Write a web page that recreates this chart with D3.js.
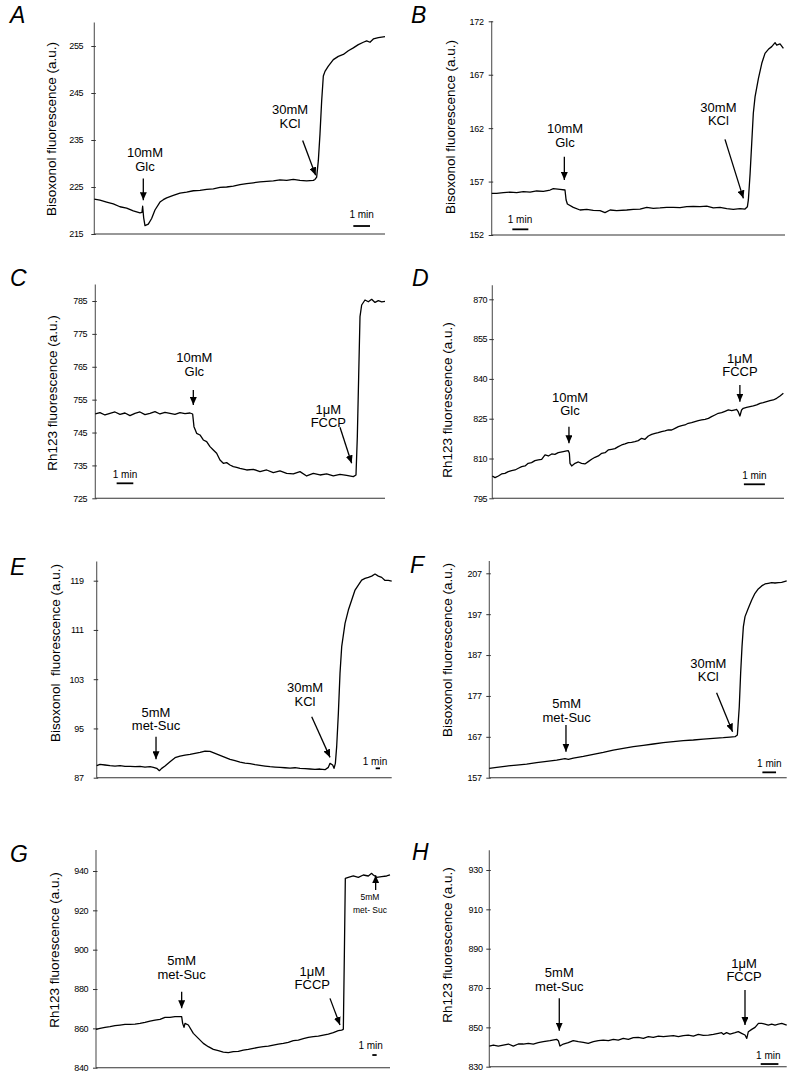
<!DOCTYPE html>
<html><head><meta charset="utf-8">
<script src="https://cdn.jsdelivr.net/npm/d3@7"></script>
<style>
body{margin:0;background:#fff}
svg text{font-family:"Liberation Sans",Arial,Helvetica,sans-serif;fill:#000}
</style></head><body>
<svg id="c" width="799" height="1083"></svg>
<script>
// ---------- DATA (time in minutes, fluorescence in a.u.) ----------
const letters = ["A","B","C","D","E","F","G","H"];
const labelBis = "Bisoxonol fluorescence (a.u.)";
const labelBisE = "Bisoxonol\u00a0\u00a0fluorescence (a.u.)";
const labelRh = "Rh123 fluorescence (a.u.)";

const ticksA = [215,225,235,245,255];
const ticksB = [152,157,162,167,172];
const ticksC = [725,735,745,755,765,775,785];
const ticksD = [795,810,825,840,855,870];
const ticksE = [87,95,103,111,119];
const ticksF = [157,167,177,187,197,207];
const ticksG = [840,860,880,900,920,940];
const ticksH = [830,850,870,890,910,930];

const traceA = [[0,222.4],[0.34,222.2],[0.74,221.8],[1.14,221.4],[1.54,220.8],[1.94,220.5],[2.34,219.9],[2.74,219.5],[2.86,219.6],[2.90,220.9],[2.96,218.5],[3.04,216.8],[3.24,217.1],[3.44,218.3],[3.64,220.1],[3.94,221.8],[4.14,222.3],[4.34,222.7],[4.74,223.2],[5.14,223.7],[5.54,223.9],[5.94,224.2],[6.34,224.3],[6.74,224.5],[7.14,224.6],[7.54,224.9],[7.94,225.0],[8.34,225.2],[8.74,225.5],[9.14,225.7],[9.54,225.9],[9.94,226.1],[10.34,226.2],[10.74,226.3],[11.14,226.5],[11.54,226.4],[11.94,226.6],[12.34,226.4],[12.74,226.3],[13.14,226.4],[13.24,226.6],[13.34,227.1],[13.44,230.6],[13.54,236.3],[13.64,243.3],[13.74,248.6],[13.84,249.6],[14.04,250.7],[14.34,252.1],[14.64,252.8],[14.94,253.2],[15.24,254.0],[15.54,254.6],[15.84,255.3],[16.14,255.8],[16.34,256.1],[16.54,255.8],[16.74,256.5],[17.04,256.8],[17.44,257.0]];

const traceB = [[0,155.90],[0.31,155.90],[0.73,155.96],[1.15,156.02],[1.56,155.96],[1.98,156.06],[2.40,156.02],[2.81,156.12],[3.23,156.09],[3.65,156.21],[3.85,156.34],[4.27,156.27],[4.58,156.21],[4.65,155.28],[4.73,154.90],[5.10,154.59],[5.52,154.34],[5.94,154.40],[6.35,154.31],[6.77,154.28],[7.08,154.09],[7.40,154.34],[7.81,154.28],[8.44,154.34],[8.85,154.40],[9.27,154.43],[9.69,154.59],[10.10,154.50],[10.52,154.53],[10.94,154.59],[11.35,154.59],[11.77,154.56],[12.19,154.65],[12.60,154.68],[13.02,154.65],[13.44,154.71],[13.85,154.53],[14.27,154.59],[14.69,154.46],[15.10,154.40],[15.52,154.46],[15.83,154.43],[15.98,154.65],[16.04,155.28],[16.15,157.77],[16.25,160.58],[16.35,163.39],[16.46,164.95],[16.67,166.66],[16.88,168.07],[17.08,169.00],[17.29,169.38],[17.50,169.63],[17.71,170.00],[17.81,169.78],[18.02,169.88],[18.23,169.47]];

const traceC = [[0,750.64],[0.28,751.05],[0.58,750.34],[0.88,750.84],[1.18,751.25],[1.48,750.54],[1.78,750.94],[2.08,750.13],[2.38,750.84],[2.68,751.25],[2.98,750.44],[3.28,750.84],[3.58,751.35],[3.88,750.64],[4.18,751.15],[4.48,750.84],[4.78,750.54],[5.08,751.05],[5.38,750.74],[5.68,750.94],[5.84,750.64],[5.92,746.79],[6.08,744.76],[6.28,744.26],[6.48,742.74],[6.68,742.23],[6.88,740.71],[7.08,739.70],[7.28,738.68],[7.48,736.65],[7.68,735.64],[7.88,735.84],[8.08,735.13],[8.28,734.63],[8.48,734.43],[8.68,734.12],[9.08,733.61],[9.48,733.82],[9.88,733.11],[10.28,733.61],[10.68,732.80],[11.08,733.31],[11.48,732.60],[11.88,732.40],[12.28,733.11],[12.68,731.79],[13.08,732.60],[13.48,732.09],[13.88,732.40],[14.28,731.79],[14.68,732.30],[15.08,731.99],[15.48,731.59],[15.64,732.09],[15.72,743.75],[15.80,761.99],[15.88,780.23],[15.98,783.78],[16.18,785.30],[16.38,784.76],[16.58,785.51],[16.78,784.56],[16.98,785.10],[17.18,784.76],[17.38,784.86]];

const traceD = [[0,803.42],[0.13,802.79],[0.29,803.42],[0.44,804.17],[0.60,804.42],[0.76,805.05],[0.92,805.43],[1.08,805.68],[1.24,806.31],[1.40,806.93],[1.56,807.19],[1.71,808.19],[1.87,808.44],[2.03,809.20],[2.19,809.45],[2.35,809.70],[2.51,811.33],[2.67,810.95],[2.83,811.71],[2.98,811.58],[3.14,812.21],[3.38,812.59],[3.54,812.84],[3.62,812.96],[3.67,811.96],[3.70,808.19],[3.78,807.19],[3.94,808.19],[4.10,808.69],[4.25,808.19],[4.41,807.94],[4.57,808.82],[4.73,809.70],[4.89,810.45],[5.05,810.95],[5.21,811.96],[5.37,812.21],[5.52,813.22],[5.68,813.47],[5.84,813.72],[6.00,814.47],[6.16,815.10],[6.32,815.48],[6.48,815.98],[6.63,816.11],[6.79,816.36],[6.95,816.73],[7.11,817.61],[7.27,817.24],[7.43,818.49],[7.59,819.12],[7.75,819.50],[7.90,819.75],[8.06,820.13],[8.22,820.38],[8.38,820.75],[8.54,820.75],[8.70,821.38],[8.86,822.01],[9.02,822.39],[9.17,822.64],[9.33,823.27],[9.49,823.52],[9.65,823.89],[9.81,824.27],[9.97,824.52],[10.13,824.77],[10.29,825.15],[10.44,825.78],[10.60,826.41],[10.76,827.04],[10.92,827.29],[11.08,827.79],[11.24,828.29],[11.40,828.04],[11.56,828.29],[11.63,828.54],[11.71,827.66],[11.79,826.03],[11.87,828.29],[11.95,828.92],[12.11,829.30],[12.27,829.55],[12.43,829.80],[12.59,830.18],[12.75,830.80],[12.90,831.06],[13.06,831.43],[13.22,831.81],[13.38,832.06],[13.54,832.69],[13.70,833.57],[13.86,834.57]];

const traceE = [[0,88.95],[0.77,89.17],[1.92,89.06],[3.08,88.95],[4.23,88.89],[5.38,88.95],[6.54,88.84],[7.69,88.84],[8.85,88.79],[10.0,88.84],[11.15,88.73],[12.31,88.79],[13.08,88.68],[13.85,88.52],[14.46,88.14],[15.0,88.52],[15.77,88.89],[16.92,89.60],[18.08,90.25],[19.23,90.52],[20.38,90.68],[21.54,90.79],[22.69,90.95],[23.85,91.11],[25.0,91.33],[26.15,91.28],[27.31,90.95],[28.46,90.63],[29.62,90.30],[30.77,89.98],[31.92,89.76],[33.08,89.54],[34.23,89.38],[35.38,89.27],[36.54,89.11],[37.69,89.00],[38.85,88.89],[40.0,88.79],[41.15,88.73],[42.31,88.68],[43.46,88.62],[44.62,88.57],[45.77,88.62],[46.92,88.52],[48.08,88.46],[49.23,88.41],[50.38,88.35],[51.54,88.41],[52.69,88.30],[53.46,88.68],[53.85,89.33],[54.46,89.06],[54.77,88.52],[55.08,89.33],[55.38,92.04],[55.77,97.45],[56.15,103.95],[56.54,108.28],[57.31,112.07],[58.08,114.23],[58.85,115.86],[59.62,117.48],[60.38,118.29],[61.15,119.10],[61.92,119.37],[62.69,119.54],[63.46,119.75],[64.23,120.08],[65.0,119.75],[65.77,119.54],[66.54,119.04],[67.31,119.04],[68.08,118.93]];

const traceF = [[0,159.28],[0.54,159.53],[1.27,159.85],[2.0,160.10],[2.73,160.34],[3.46,160.67],[4.20,161.00],[4.93,161.32],[5.54,161.65],[5.78,161.49],[6.15,161.81],[6.88,162.22],[7.61,162.71],[8.34,163.20],[9.07,163.77],[9.80,164.18],[10.54,164.59],[11.27,164.91],[12.0,165.24],[12.73,165.56],[13.46,165.81],[14.20,166.05],[14.93,166.22],[15.66,166.46],[16.39,166.62],[17.12,166.79],[17.61,166.95],[17.98,167.03],[18.15,167.44],[18.29,174.37],[18.39,182.53],[18.49,189.06],[18.59,193.95],[18.71,196.40],[18.95,198.44],[19.20,200.47],[19.44,202.11],[19.68,203.17],[19.93,203.91],[20.17,204.39],[20.41,204.55],[20.66,204.72],[20.90,204.63],[21.15,204.72],[21.39,204.80],[21.76,205.12]];

const traceG = [[0,859.49],[0.92,860.0],[2.08,860.51],[3.23,860.85],[4.38,861.36],[5.54,861.69],[6.69,862.03],[7.85,862.03],[9.0,862.20],[10.15,862.54],[11.31,863.05],[12.46,863.73],[13.62,864.24],[14.77,864.58],[15.92,865.59],[17.08,865.59],[18.23,865.93],[19.38,865.93],[19.77,865.93],[20.0,862.54],[20.31,860.51],[20.54,862.54],[21.31,861.69],[22.46,857.46],[23.62,854.92],[24.77,852.37],[25.92,850.68],[27.08,849.32],[28.23,848.64],[29.38,847.97],[30.54,847.63],[31.69,848.14],[32.85,848.31],[34.0,848.98],[35.15,849.32],[36.31,849.83],[37.46,850.34],[38.62,850.68],[39.77,851.02],[40.92,851.53],[42.08,852.03],[43.23,852.37],[44.38,852.88],[45.54,853.73],[46.69,854.07],[47.85,854.75],[49.0,855.42],[50.15,855.76],[51.31,856.10],[52.46,856.61],[53.62,857.12],[54.77,857.80],[55.92,858.81],[56.69,859.15],[57.08,859.49],[57.31,896.44],[57.54,936.27],[58.23,936.78],[59.38,937.46],[60.54,936.78],[61.69,937.97],[62.85,937.46],[63.62,938.81],[64.0,937.97],[64.77,936.78],[65.92,937.12],[67.08,937.46],[67.85,937.97]];

const traceH = [[0,840.51],[0.23,841.02],[0.51,840.51],[0.79,841.02],[1.08,841.53],[1.36,840.51],[1.64,841.53],[1.92,841.53],[2.21,841.86],[2.49,841.53],[2.77,842.20],[3.06,842.71],[3.43,843.22],[3.81,843.90],[3.91,843.22],[4.0,840.51],[4.19,841.53],[4.47,842.20],[4.75,843.22],[5.04,842.71],[5.32,842.37],[5.60,841.86],[5.89,842.71],[6.17,843.22],[6.45,843.56],[6.74,843.22],[7.02,843.90],[7.30,843.56],[7.58,844.41],[7.87,843.90],[8.15,844.75],[8.43,844.92],[8.72,844.41],[9.0,845.25],[9.28,844.92],[9.57,845.59],[9.85,845.25],[10.13,845.59],[10.42,845.76],[10.70,845.25],[10.98,845.76],[11.26,846.10],[11.55,845.59],[11.83,846.44],[12.11,845.93],[12.40,846.10],[12.68,846.44],[12.96,846.95],[13.15,847.29],[13.25,846.44],[13.43,847.29],[13.62,846.61],[13.91,847.29],[14.09,847.80],[14.28,846.95],[14.47,846.10],[14.57,844.41],[14.66,847.80],[14.85,848.98],[15.04,850.0],[15.23,852.03],[15.42,852.03],[15.60,851.69],[15.79,851.19],[15.98,851.69],[16.17,851.19],[16.36,851.69],[16.55,852.03],[16.83,851.19]];

// time extent of each recording (min) and top of y-axis line (a.u.)
const tMaxes = {A:17.44,B:18.33,C:17.38,D:13.89,E:68.08,F:21.76,G:67.85,H:16.83};
const yAxisTop = {A:260,B:172,C:790,D:875.3,E:122.1,F:210,G:950.7,H:940};

// annotations: text lines anchored at (t,v); arrow from (t1,v1) to (t2,v2)
const notesA = [{lines:["10mM","Glc"],t:3.04,v:231.3,a:[2.94,226.8,2.94,222.2]},{lines:["30mM","KCl"],t:11.74,v:240.5,a:[12.5,234.9,13.28,227.5]}];
const notesB = [{lines:["10mM","Glc"],t:4.58,v:161.5,a:[4.54,159.33,4.54,157.15]},{lines:["30mM","KCl"],t:14.17,v:163.54,a:[14.58,160.95,15.73,155.43]}];
const notesC = [{lines:["10mM","Glc"],t:5.94,v:766.4,a:[5.88,757.94,5.88,753.38]},{lines:["1\u03bcM","FCCP"],t:13.98,v:750.64,a:[14.68,746.59,15.38,735.64]}];
const notesD = [{lines:["10mM","Glc"],t:3.70,v:831.3,a:[3.65,822.01,3.65,815.73]},{lines:["1\u03bcM","FCCP"],t:11.79,v:846.13,a:[11.79,837.71,11.79,831.43]}];
const notesE = [{lines:["5mM","met-Suc"],t:13.69,v:96.91,a:[13.69,93.66,13.69,89.98]},{lines:["30mM","KCl"],t:48.08,v:100.86,a:[49.62,96.91,53.85,90.30]}];
const notesF = [{lines:["5mM","met-Suc"],t:5.66,v:174.0,a:[5.61,169.89,5.61,163.36]},{lines:["30mM","KCl"],t:16.02,v:183.84,a:[16.63,177.80,17.80,168.26]}];
const notesG = [{lines:["5mM","met-Suc"],t:19.77,v:892.03,a:[19.77,878.64,19.77,870.17]},{lines:["1\u03bcM","FCCP"],t:49.92,v:886.78,a:[54.0,875.25,56.31,861.69]},{lines:["5mM","met- Suc"],t:63.23,v:925.25,a:[64.54,930.3,64.54,937.9],small:true}];
const notesH = [{lines:["5mM","met-Suc"],t:3.96,v:875.42,a:[3.96,864.75,3.96,848.31]},{lines:["1\u03bcM","FCCP"],t:14.42,v:880.34,a:[14.47,868.98,14.47,851.19]}];

// 1-min scale bars: [tStart, tEnd, vBar, tText, vText]
const scaleBars = {A:[15.54,16.54,216.7,16.04,218.3],B:[1.29,2.29,152.53,1.77,153.15],C:[1.28,2.28,729.56,1.78,731.28],D:[11.98,12.98,800.28,12.48,802.41],E:[64.38,65.38,88.52,64.23,89.06],F:[19.98,20.98,158.31,20.49,159.69],G:[63.77,64.77,846.44,63.38,849.32],H:[15.36,16.36,831.36,15.79,834.07]};

// ---------- LAYOUT (pixels) ----------
const layout = {
 A:{x0:94.3,x1:385,y0:234,y1:46,gap:11,letter:[10,23],ylab:[56,129]},
 B:{x0:491.7,x1:785,y0:235,y1:21.3,gap:8,letter:[411,23],ylab:[455,127]},
 C:{x0:95.3,x1:385,y0:498.3,y1:301,gap:8,letter:[10,286],ylab:[56.5,393]},
 D:{x0:492.3,x1:784,y0:498.3,y1:299.3,gap:5,letter:[412,286],ylab:[452,400]},
 E:{x0:96.7,x1:391.7,y0:777.7,y1:580.7,gap:13,letter:[10,575],ylab:[60,653]},
 F:{x0:489.3,x1:786.7,y0:777.7,y1:573.3,gap:7.6,letter:[410,573],ylab:[452,650]},
 G:{x0:96,x1:390,y0:1067.7,y1:871,gap:7.7,letter:[10,862],ylab:[59,950]},
 H:{x0:489.3,x1:786.7,y0:1066.7,y1:870,gap:6.7,letter:[412,860],ylab:[452,945]}
};

const panels = [
 {id:"A",trace:traceA,ticks:ticksA,label:labelBis,notes:notesA},
 {id:"B",trace:traceB,ticks:ticksB,label:labelBis,notes:notesB},
 {id:"C",trace:traceC,ticks:ticksC,label:labelRh,notes:notesC},
 {id:"D",trace:traceD,ticks:ticksD,label:labelRh,notes:notesD},
 {id:"E",trace:traceE,ticks:ticksE,label:labelBisE,notes:notesE},
 {id:"F",trace:traceF,ticks:ticksF,label:labelBis,notes:notesF},
 {id:"G",trace:traceG,ticks:ticksG,label:labelRh,notes:notesG},
 {id:"H",trace:traceH,ticks:ticksH,label:labelRh,notes:notesH}
];

// ---------- DRAW ----------
const svg = d3.select("#c");
svg.append("rect").attr("width",799).attr("height",1083).attr("fill","#fff");
svg.append("defs").append("marker").attr("id","ah").attr("markerUnits","userSpaceOnUse")
  .attr("viewBox","0 0 8 7").attr("refX",8).attr("refY",3.5).attr("markerWidth",8).attr("markerHeight",7)
  .attr("orient","auto").append("path").attr("d","M0,0L8,3.5L0,7Z").attr("fill","#000");

panels.forEach(p => {
  const L = layout[p.id];
  const x = d3.scaleLinear().domain([0,tMaxes[p.id]]).range([L.x0,L.x1]);
  const y = d3.scaleLinear().domain([p.ticks[0],p.ticks[p.ticks.length-1]]).range([L.y0,L.y1]);
  const g = svg.append("g");

  // axis lines
  g.append("line").attr("x1",L.x0).attr("x2",L.x0).attr("y1",y(yAxisTop[p.id])).attr("y2",L.y0)
    .attr("stroke","#555").attr("stroke-width",1.1);
  g.append("line").attr("x1",L.x0).attr("x2",L.x1).attr("y1",L.y0).attr("y2",L.y0)
    .attr("stroke","#333").attr("stroke-width",1.1);

  const ax = d3.axisLeft(y).tickValues(p.ticks).tickSize(3).tickPadding(L.gap-3).tickFormat(d3.format("d"));
  const ag = g.append("g").attr("transform",`translate(${L.x0},0)`).call(ax);
  ag.select(".domain").remove();
  ag.selectAll(".tick line").attr("x1",1.5).attr("stroke","#333");
  ag.selectAll(".tick text").attr("font-size",9).attr("font-family","Liberation Sans, Arial, sans-serif").attr("letter-spacing","-0.3").attr("fill","#000");

  // trace
  g.append("path").datum(p.trace)
    .attr("d",d3.line().x(d=>x(d[0])).y(d=>y(d[1])))
    .attr("fill","none").attr("stroke","#000").attr("stroke-width",1.3).attr("stroke-linejoin","round");

  // annotations
  p.notes.forEach(n => {
    const fs = n.small ? 8.5 : 13;
    const lh = n.small ? 12.7 : 13.5;
    const t = g.append("text").attr("text-anchor","middle").attr("font-size",fs);
    n.lines.forEach((s,i)=>{
      t.append("tspan").attr("x",x(n.t)).attr("y",y(n.v)+i*lh).text(s);
    });
    g.append("line").attr("x1",x(n.a[0])).attr("y1",y(n.a[1])).attr("x2",x(n.a[2])).attr("y2",y(n.a[3]))
      .attr("stroke","#000").attr("stroke-width",1.3).attr("marker-end","url(#ah)");
  });

  // 1 min scale bar
  const s = scaleBars[p.id];
  g.append("line").attr("x1",x(s[0])).attr("x2",x(s[1])).attr("y1",y(s[2])).attr("y2",y(s[2]))
    .attr("stroke","#000").attr("stroke-width",1.8);
  g.append("text").attr("x",x(s[3])).attr("y",y(s[4])).attr("text-anchor","middle").attr("font-size",10).text("1 min");

  // y label
  g.append("text").attr("transform",`translate(${L.ylab[0]},${L.ylab[1]}) rotate(-90)`)
    .attr("text-anchor","middle").attr("font-size",13.5).text(p.label);

  // panel letter
  g.append("text").attr("x",L.letter[0]).attr("y",L.letter[1]).attr("font-size",23)
    .attr("font-style","italic").text(p.id);
});
</script>
</body></html>
